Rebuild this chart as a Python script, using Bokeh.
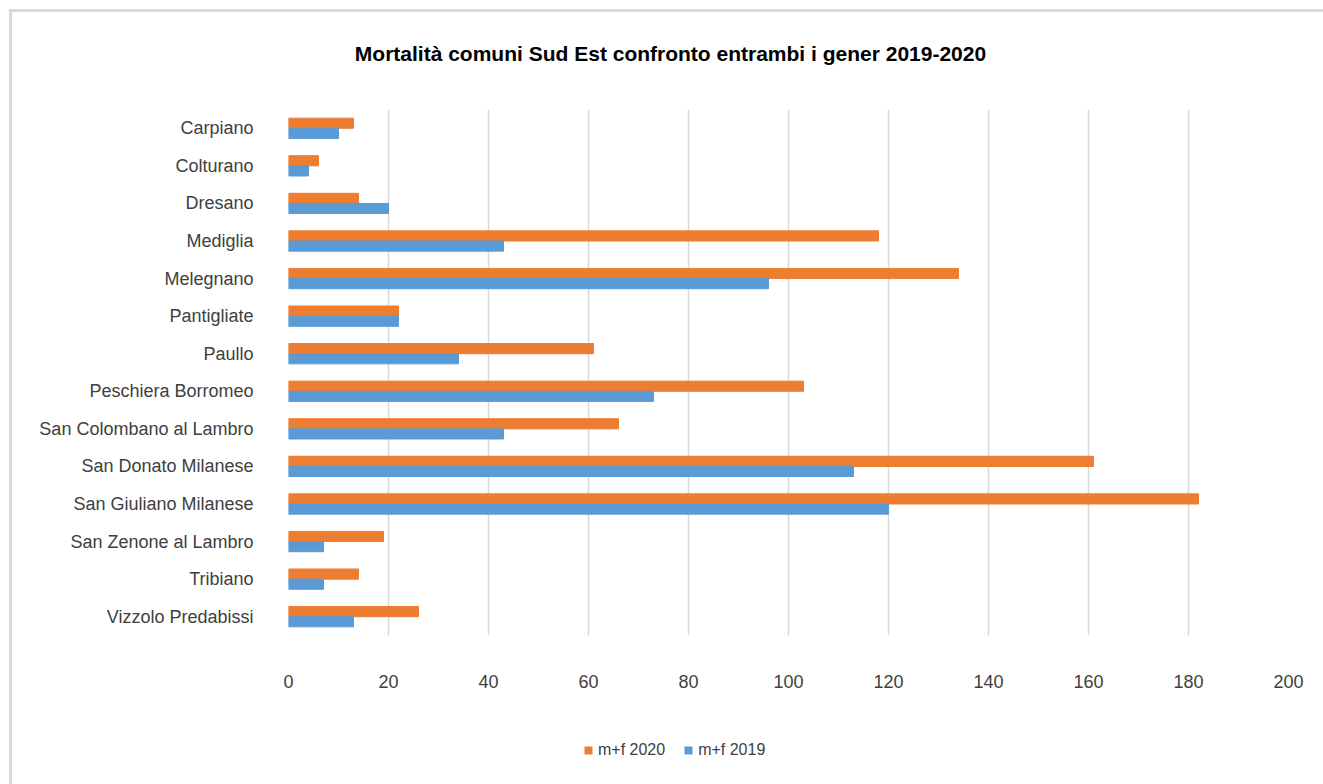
from bokeh.plotting import figure
from bokeh.layouts import column
from bokeh.models import ColumnDataSource, Range1d, FixedTicker, Legend, LegendItem
from bokeh.core.properties import value
from bokeh.transform import dodge
from bokeh.embed import file_html
from bokeh.resources import INLINE

cities = ["Carpiano", "Colturano", "Dresano", "Mediglia", "Melegnano", "Pantigliate",
          "Paullo", "Peschiera Borromeo", "San Colombano al Lambro", "San Donato Milanese",
          "San Giuliano Milanese", "San Zenone al Lambro", "Tribiano", "Vizzolo Predabissi"]
mf_2020 = [13, 6, 14, 118, 134, 22, 61, 103, 66, 161, 182, 19, 14, 26]
mf_2019 = [10, 4, 20, 43, 96, 22, 34, 73, 43, 113, 120, 7, 7, 13]
x_ticks = [0, 20, 40, 60, 80, 100, 120, 140, 160, 180, 200]
title_text = "Mortalità comuni Sud Est confronto entrambi i gener 2019-2020"
series_labels = ["m+f 2020", "m+f 2019"]

FONT = "Liberation Sans"
ORANGE = "#ED7D31"
BLUE = "#5B9BD5"
TXT = "#404040"
W = 1311
LEFT = 276
RIGHT = 35


def strip(height):
    f = figure(width=W, height=height, x_range=Range1d(LEFT, W - RIGHT),
               y_range=Range1d(0, height), output_backend="svg",
               toolbar_location=None, min_border_left=LEFT,
               min_border_right=RIGHT, min_border_top=0, min_border_bottom=0)
    f.axis.visible = False
    f.grid.visible = False
    f.outline_line_color = None
    return f


# ---- title strip ----
pt = strip(97)
pt.text(x=[658], y=[56], text=[title_text], text_align="center",
        text_baseline="middle", text_font=value(FONT), text_font_size="21px",
        text_font_style="bold", text_color="#000000")

# ---- main chart ----
source = ColumnDataSource(dict(city=cities, y2020=mf_2020, y2019=mf_2019))

p = figure(width=W, height=586, y_range=list(reversed(cities)),
           x_range=Range1d(0, 200), output_backend="svg", toolbar_location=None,
           min_border_left=LEFT, min_border_right=RIGHT, min_border_top=0,
           min_border_bottom=60)

p.hbar(y=dodge("city", 0.135, range=p.y_range), right="y2020", left=0,
       height=0.27, color=ORANGE, source=source)
p.hbar(y=dodge("city", -0.135, range=p.y_range), right="y2019", left=0,
       height=0.27, color=BLUE, source=source)

p.outline_line_color = None
p.ygrid.grid_line_color = None
p.xgrid.grid_line_color = "#d9d9d9"
p.xgrid.grid_line_width = 1.5

p.xaxis.ticker = FixedTicker(ticks=x_ticks)
p.xaxis.axis_line_color = None
p.xaxis.major_tick_line_color = None
p.xaxis.minor_tick_line_color = None
p.xaxis.major_label_text_font = FONT
p.xaxis.major_label_text_font_size = "18px"
p.xaxis.major_label_text_color = TXT
p.xaxis.major_label_standoff = 33

p.yaxis.axis_line_color = None
p.yaxis.major_tick_line_color = None
p.yaxis.minor_tick_line_color = None
p.yaxis.major_label_text_font = FONT
p.yaxis.major_label_text_font_size = "18px"
p.yaxis.major_label_text_color = TXT
p.yaxis.major_label_standoff = 29

# ---- legend strip ----
pl = strip(89)
l20 = pl.hbar(y=[0], right=[0], left=[0], height=0, fill_color=ORANGE, line_alpha=0)
l19 = pl.hbar(y=[0], right=[0], left=[0], height=0, fill_color=BLUE, line_alpha=0)
legend = Legend(items=[LegendItem(label=series_labels[0], renderers=[l20]),
                       LegendItem(label=series_labels[1], renderers=[l19])],
                orientation="horizontal", location=(571 - LEFT, 25),
                label_text_font=FONT, label_text_font_size="16px",
                label_text_color=TXT, glyph_width=10, glyph_height=10,
                spacing=18, label_standoff=5, border_line_color=None,
                background_fill_alpha=0, margin=0, padding=0)
pl.add_layout(legend, "center")

layout = column(pt, p, pl, spacing=0)
layout.styles = {"margin-left": "9px", "margin-top": "9px",
                 "border-top": "3px solid #d9d9d9", "border-left": "3px solid #d9d9d9"}

open("out.html", "w").write(file_html(layout, INLINE))
